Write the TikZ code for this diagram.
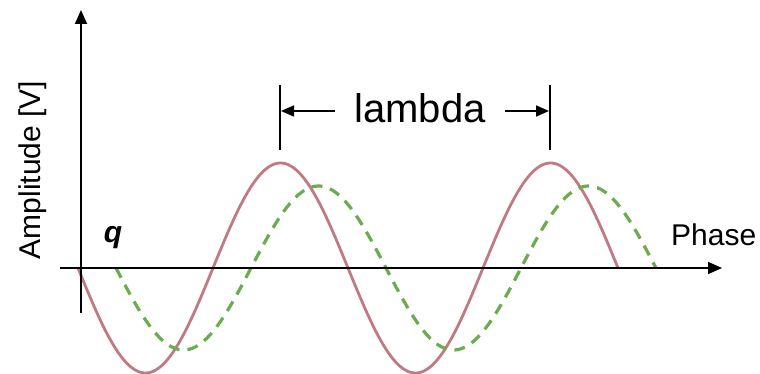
\documentclass[tikz,border=0pt]{standalone}
\usepackage{fontspec}
\setmainfont{Liberation Sans}
\usetikzlibrary{arrows.meta}
\definecolor{wavered}{RGB}{192,122,132}
\definecolor{wavegreen}{RGB}{108,172,80}
\tikzset{
  axis/.style={line width=1.8pt, -{Triangle[length=14pt,width=12pt]}},
  dimline/.style={line width=1.4pt},
  dimarrow/.style={line width=1.6pt, -{Triangle[length=13pt,width=11pt]}},
  redwave/.style={wavered, line width=2.8pt},
  greenwave/.style={wavegreen, line width=3.2pt, dash pattern=on 11pt off 8pt},
  lbl/.style={inner sep=0pt, font=\fontsize{30}{36}\selectfont}
}
\begin{document}
\begin{tikzpicture}[x=1pt,y=-1pt]
\useasboundingbox (0,0) rectangle (760,374);
% curves
\draw[redwave] plot[domain=78:618, samples=240, smooth] (\x, {268+105*sin((\x-78)*4/3)});
\draw[greenwave] plot[domain=116:656, samples=240, smooth] (\x, {268+82*sin((\x-116)*4/3)});
% axes
\coordinate (ybot) at (81,313);
\coordinate (ytop) at (81,10);
\coordinate (xleft) at (60,268);
\coordinate (xright) at (722,268);
\draw[axis] (ybot) -- (ytop);
\draw[axis] (xleft) -- (xright);
% labels
\node[lbl, rotate=90] (amp) at (33,170) {Amplitude [V]};
\node[lbl, anchor=base west] (phase) at (671,245) {Phase};
\node[lbl, font=\fontsize{30}{36}\selectfont\bfseries\itshape] (q) at (113,238) {q};
% lambda marker
\coordinate (m1top) at (280,85);
\coordinate (m1bot) at (280,150);
\coordinate (m2top) at (550,85);
\coordinate (m2bot) at (550,150);
\draw[dimline] (m1top) -- (m1bot);
\draw[dimline] (m2top) -- (m2bot);
\node[inner ysep=0pt, inner xsep=19pt, font=\fontsize{40}{48}\selectfont] (lam) at (420,108) {lambda};
\coordinate (a1) at (281,111);
\coordinate (a2) at (549,111);
\draw[dimarrow] (lam.west |- a1) -- (a1);
\draw[dimarrow] (lam.east |- a2) -- (a2);
\end{tikzpicture}
\end{document}
